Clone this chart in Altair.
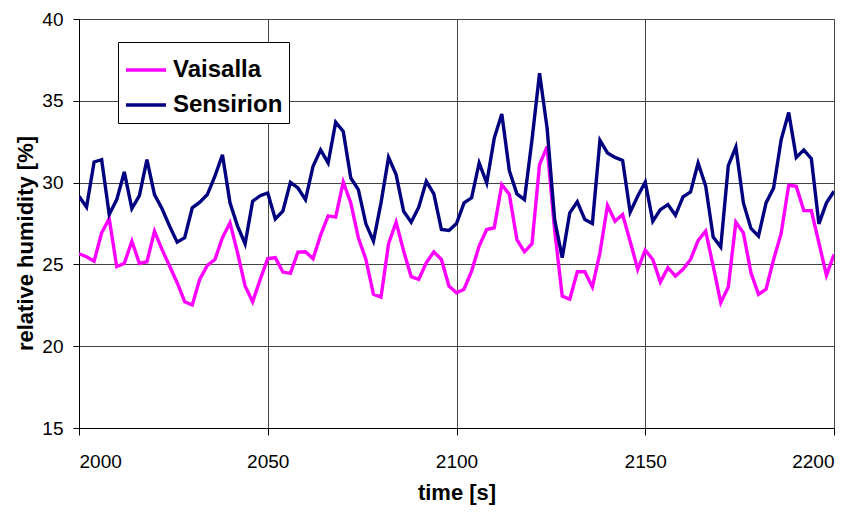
import altair as alt
import pandas as pd

time_s = list(range(2000, 2202, 2))

sensirion = [
    29.17, 28.5, 31.26, 31.4, 28.05, 28.96, 30.65, 28.41, 29.2, 31.4,
    29.27, 28.4, 27.34, 26.36, 26.63, 28.46, 28.8, 29.27, 30.39, 31.7,
    28.76, 27.34, 26.26, 28.86, 29.2, 29.37, 27.78, 28.25, 30.02, 29.67,
    28.96, 31.0, 32.0, 31.2, 33.7, 33.13, 30.28, 29.57, 27.48, 26.42,
    28.76, 31.54, 30.49, 28.25, 27.58, 28.5, 30.08, 29.31, 27.13, 27.07,
    27.5, 28.76, 29.07, 31.2, 29.98, 32.72, 34.19, 30.73, 29.31, 28.96,
    32.62, 36.69, 33.33, 27.74, 25.41, 28.15, 28.83, 27.74, 27.5, 32.58,
    31.81, 31.54, 31.36, 28.19, 29.17, 30.04, 27.64, 28.35, 28.66, 28.0,
    29.13, 29.43, 31.2, 29.8, 26.67, 26.06, 31.04, 32.17, 28.76, 27.2,
    26.73, 28.76, 29.67, 32.62, 34.29, 31.54, 32.0, 31.46, 27.48, 28.76,
    29.47,
]

vaisalla = [
    25.65, 25.47, 25.2, 26.93, 27.8, 24.86, 25.06, 26.42, 25.06, 25.16,
    27.03, 25.9, 24.9, 23.88, 22.72, 22.52, 24.1, 24.94, 25.3, 26.63,
    27.54, 25.71, 23.68, 22.72, 24.08, 25.35, 25.41, 24.53, 24.45, 25.75,
    25.77, 25.35, 26.79, 27.97, 27.89, 30.04, 28.76, 26.63, 25.3, 23.17,
    23.0, 26.26, 27.58, 25.81, 24.25, 24.08, 25.1, 25.77, 25.3, 23.68,
    23.27, 23.48, 24.59, 26.12, 27.13, 27.24, 29.88, 29.27, 26.52, 25.77,
    26.26, 31.1, 32.2, 27.1, 23.07, 22.87, 24.55, 24.55, 23.62, 25.71,
    28.6, 27.64, 28.05, 26.42, 24.7, 25.87, 25.3, 23.92, 24.8, 24.29,
    24.7, 25.3, 26.46, 27.03, 24.9, 22.66, 23.62, 27.58, 26.93, 24.49,
    23.17, 23.48, 25.3, 26.89, 29.84, 29.78, 28.29, 28.29, 26.32, 24.33,
    25.61,
]

series_names = ["Vaisalla", "Sensirion"]
series_colors = ["#FF00FF", "#000080"]
x_ticks = [2000, 2050, 2100, 2150, 2200]
y_ticks = [15, 20, 25, 30, 35, 40]

df = pd.concat([
    pd.DataFrame({"time": time_s, "rh": vaisalla, "series": "Vaisalla", "ord": 0}),
    pd.DataFrame({"time": time_s, "rh": sensirion, "series": "Sensirion", "ord": 1}),
], ignore_index=True)

FONT = "Liberation Sans"

chart = alt.Chart(df).mark_line(strokeWidth=3.4, clip=True).encode(
    x=alt.X(
        "time:Q",
        scale=alt.Scale(domain=[2000, 2200], nice=False, zero=False),
        axis=alt.Axis(
            values=x_ticks, title="time [s]", format="d",
            tickSize=7, labelPadding=17,
            titleY=64, titleBaseline="middle",
        ),
    ),
    y=alt.Y(
        "rh:Q",
        scale=alt.Scale(domain=[15, 40], nice=False, zero=False),
        axis=alt.Axis(
            values=y_ticks, title="relative humidity [%]",
            tickSize=6, labelPadding=10,
            titleX=-54, titleY=224, titleAngle=270,
            titleAlign="center", titleBaseline="middle",
        ),
    ),
    color=alt.Color(
        "series:N",
        scale=alt.Scale(domain=series_names, range=series_colors),
        legend=alt.Legend(
            title=None, orient="none", legendX=39, legendY=23,
            fillColor="white", strokeColor="black", padding=6,
            symbolType="M-1,0L1,0", symbolSize=1600, symbolStrokeWidth=3.6,
            labelFont=FONT, labelFontSize=24, labelFontWeight="bold",
            labelColor="black", labelOffset=5, rowPadding=1, labelLimit=0,
        ),
    ),
    order=alt.Order("ord:Q"),
    detail="series:N",
).properties(
    width=755, height=409,
    autosize=alt.AutoSizeParams(type="none"),
    padding={"left": 71, "top": 11, "right": 10, "bottom": 77},
).configure_view(
    stroke=None
).configure_axis(
    labelFont=FONT, labelFontSize=19, labelColor="black",
    titleFont=FONT, titleFontSize=22, titleFontWeight="bold", titleColor="black",
    domainColor="black", tickColor="black", gridColor="#444444", gridWidth=1,
    grid=True,
)

chart.save("out.html", embed_options={"renderer": "svg", "actions": False})
